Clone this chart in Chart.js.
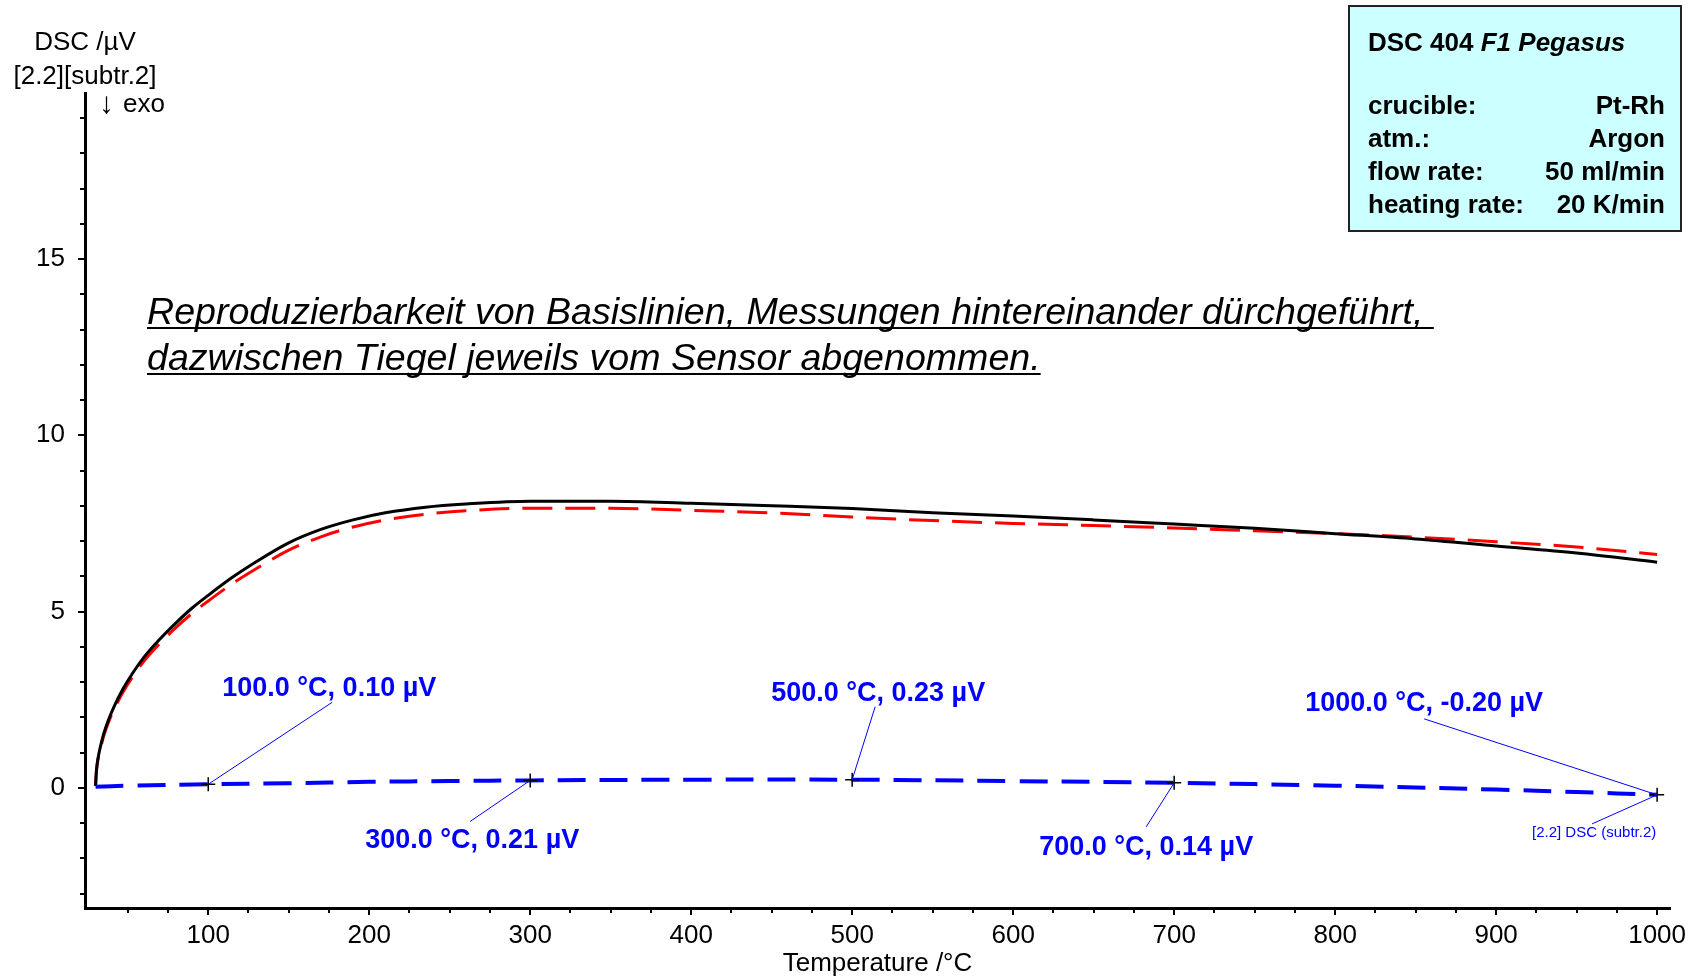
<!DOCTYPE html>
<html>
<head>
<meta charset="utf-8">
<script src="https://cdn.jsdelivr.net/npm/chart.js@4"></script>
<style>
  html, body { margin: 0; padding: 0; background: #fff; }
  canvas { display: block; }
</style>
</head>
<body>
<canvas id="dscChart" width="1700" height="978"></canvas>
<script>
// Temperatur /°C fuer beide Basislinien
const tempsBasis = [30, 30.5, 31, 32, 33, 35, 38, 42, 47, 53, 60, 70, 80, 90, 100, 115, 130, 150, 170, 190,
  210, 235, 260, 300, 350, 400, 450, 500, 550, 600, 650, 700, 750, 800, 850, 900, 950, 1000];
// Messung 1 (schwarz)
const dscLauf1 = [0.05, 0.45, 0.68, 0.95, 1.16, 1.52, 1.92, 2.35, 2.80, 3.25, 3.70, 4.22, 4.68, 5.10, 5.46, 5.97, 6.42, 6.95, 7.33, 7.60,
  7.80, 7.96, 8.05, 8.13, 8.13, 8.07, 8.00, 7.92, 7.80, 7.71, 7.60, 7.48, 7.36, 7.21, 7.06, 6.86, 6.66, 6.40];
// Messung 2 (rot, gestrichelt)
const dscLauf2 = [0.05, 0.43, 0.65, 0.91, 1.11, 1.46, 1.85, 2.27, 2.71, 3.15, 3.59, 4.10, 4.55, 4.95, 5.30, 5.79, 6.22, 6.74, 7.12, 7.40,
  7.60, 7.76, 7.86, 7.93, 7.93, 7.87, 7.80, 7.68, 7.58, 7.50, 7.44, 7.37, 7.29, 7.21, 7.11, 6.98, 6.83, 6.62];
// Differenz [2.2] DSC (subtr.2)
const subtrTemps = [30, 50, 100, 150, 200, 250, 300, 400, 500, 600, 700, 800, 900, 950, 1000];
const subtrValues = [0.03, 0.06, 0.10, 0.13, 0.17, 0.19, 0.21, 0.23, 0.23, 0.19, 0.14, 0.06, -0.05, -0.12, -0.20];
// Markierte Punkte
const markerTemps = [100, 300, 500, 700, 1000];
const markerValues = [0.10, 0.21, 0.23, 0.14, -0.20];
// Achsen
const xTicks = [100, 200, 300, 400, 500, 600, 700, 800, 900, 1000];
const yTicks = [0, 5, 10, 15];
const infoRows = [["crucible:", "Pt-Rh"], ["atm.:", "Argon"], ["flow rate:", "50 ml/min"], ["heating rate:", "20 K/min"]];

const FONT = "'Liberation Sans', Arial, sans-serif";
const BLUE = "#0000ff";

function toPoints(xs, ys) {
  return xs.map((t, i) => ({ x: t, y: ys[i] }));
}

const dscExtras = {
  id: "dscExtras",
  afterDatasetsDraw(chart) {
    const ctx = chart.ctx;
    const sx = chart.scales.x, sy = chart.scales.y;
    // Hinweislinien + Beschriftungen
    const offs = [[121, -96, 124, -82], [-58, 60, -60, 41], [26, -86, 23, -73], [-28, 65, -28, 44], [-233, -91, -233, -76]];
    ctx.save();
    markerTemps.forEach((t, i) => {
      const px = sx.getPixelForValue(t), py = sy.getPixelForValue(markerValues[i]);
      const o = offs[i];
      ctx.strokeStyle = BLUE; ctx.lineWidth = 1;
      ctx.beginPath(); ctx.moveTo(px, py); ctx.lineTo(px + o[2], py + o[3]); ctx.stroke();
      ctx.fillStyle = BLUE;
      ctx.font = "bold 27px " + FONT;
      ctx.textAlign = "center"; ctx.textBaseline = "middle";
      ctx.fillText(t.toFixed(1) + " °C, " + markerValues[i].toFixed(2) + " µV", px + o[0], py + o[1]);
    });
    // Kurvenname am Ende
    const ex = sx.getPixelForValue(markerTemps[4]), ey = sy.getPixelForValue(markerValues[4]);
    ctx.beginPath(); ctx.moveTo(ex, ey); ctx.lineTo(ex - 65, ey + 29); ctx.stroke();
    ctx.font = "15px " + FONT;
    ctx.fillText("[2.2] DSC (subtr.2)", ex - 63, ey + 38);
    ctx.restore();
  },
  afterDraw(chart) {
    const ctx = chart.ctx;
    const sx = chart.scales.x, sy = chart.scales.y;
    const area = chart.chartArea;
    ctx.save();
    // Nebenstriche
    ctx.strokeStyle = "#000"; ctx.lineWidth = 2;
    ctx.beginPath();
    for (let t = 50; t < sx.max; t += 25) {
      if (t % 100 === 0) continue;
      const px = Math.round(sx.getPixelForValue(t));
      ctx.moveTo(px, area.bottom); ctx.lineTo(px, area.bottom + 5);
    }
    for (let v = -3; v < sy.max; v++) {
      if (v % 5 === 0) continue;
      const py = Math.round(sy.getPixelForValue(v));
      ctx.moveTo(area.left, py); ctx.lineTo(area.left - 5, py);
    }
    ctx.stroke();

    // Y-Achsentitel
    ctx.fillStyle = "#000";
    ctx.font = "26px " + FONT;
    ctx.textAlign = "center"; ctx.textBaseline = "alphabetic";
    ctx.fillText("DSC /µV", 85, 50);
    ctx.fillText("[2.2][subtr.2]", 85, 84);
    ctx.textAlign = "left";
    ctx.font = "30px " + FONT;
    ctx.fillText("↓", 99, 113);
    ctx.font = "26px " + FONT;
    ctx.fillText("exo", 123, 112);

    // Kommentar
    ctx.font = "italic 37.6px " + FONT;
    const lines = [["Reproduzierbarkeit von Basislinien, Messungen hintereinander dürchgeführt, ", 324], ["dazwischen Tiegel jeweils vom Sensor abgenommen.", 370]];
    lines.forEach(([txt, by]) => {
      ctx.fillText(txt, 147, by);
      const w = ctx.measureText(txt).width;
      ctx.fillRect(147, by + 3, w, 2);
    });

    // Infobox
    ctx.fillStyle = "#ccffff";
    ctx.fillRect(1349, 6, 332, 225);
    ctx.strokeStyle = "#222"; ctx.lineWidth = 2;
    ctx.strokeRect(1349, 6, 332, 225);
    ctx.fillStyle = "#000";
    ctx.font = "bold 26px " + FONT;
    ctx.fillText("DSC 404 ", 1368, 51);
    const w1 = ctx.measureText("DSC 404 ").width;
    ctx.font = "italic bold 26px " + FONT;
    ctx.fillText("F1 Pegasus", 1368 + w1, 51);
    ctx.font = "bold 26px " + FONT;
    const rowY = [114, 147, 180, 213];
    infoRows.forEach(([k, v], i) => {
      ctx.textAlign = "left";
      ctx.fillText(k, 1368, rowY[i]);
      ctx.textAlign = "right";
      ctx.fillText(v, 1665, rowY[i]);
    });
    ctx.restore();
  }
};

document.addEventListener("DOMContentLoaded", function () {
  const ctx = document.getElementById("dscChart");
  new Chart(ctx, {
    type: "line",
    data: {
      datasets: [
        {
          label: "Marker",
          data: toPoints(markerTemps, markerValues),
          showLine: false,
          pointStyle: "cross",
          pointRadius: 7,
          pointBorderColor: "#000",
          pointBorderWidth: 1.5,
        },
        {
          label: "[2.2] DSC (subtr.2)",
          data: toPoints(subtrTemps, subtrValues),
          borderColor: BLUE,
          borderWidth: 4,
          borderDash: [28, 14],
          pointRadius: 0,
          tension: 0.4,
        },
        {
          label: "Lauf 1",
          data: toPoints(tempsBasis, dscLauf1),
          borderColor: "#000",
          borderWidth: 3,
          pointRadius: 0,
          cubicInterpolationMode: "monotone",
        },
        {
          label: "Lauf 2",
          data: toPoints(tempsBasis, dscLauf2),
          borderColor: "#ff0000",
          borderWidth: 3,
          borderDash: [30, 13],
          pointRadius: 0,
          cubicInterpolationMode: "monotone",
        },
      ],
    },
    options: {
      responsive: false,
      animation: false,
      devicePixelRatio: 1,
      layout: { padding: { top: 93, right: 30, bottom: 0, left: 0 } },
      plugins: { legend: { display: false }, tooltip: { enabled: false } },
      scales: {
        x: {
          type: "linear",
          min: 23.45,
          max: 1008,
          afterFit: (s) => { s.height = 70; },
          afterBuildTicks: (s) => { s.ticks = xTicks.map((v) => ({ value: v })); },
          grid: { drawOnChartArea: false, tickLength: 7, lineWidth: 2, color: "#000" },
          border: { display: true, width: 3, color: "#000" },
          ticks: { color: "#000", font: { family: FONT, size: 26 }, padding: 5, maxRotation: 0, autoSkip: false, callback: (v) => String(v) },
          title: { display: true, text: "Temperature /°C", color: "#000", font: { family: FONT, size: 26, lineHeight: 1.1 }, padding: 0 },
        },
        y: {
          type: "linear",
          min: -3.41,
          max: 19.71,
          afterFit: (s) => { s.width = 85; },
          afterBuildTicks: (s) => { s.ticks = yTicks.map((v) => ({ value: v })); },
          grid: { drawOnChartArea: false, tickLength: 7, lineWidth: 2, color: "#000" },
          border: { display: true, width: 3, color: "#000" },
          ticks: { color: "#000", font: { family: FONT, size: 26 }, padding: 13, callback: (v) => String(v) },
        },
      },
    },
    plugins: [dscExtras],
  });
});
</script>
</body>
</html>
